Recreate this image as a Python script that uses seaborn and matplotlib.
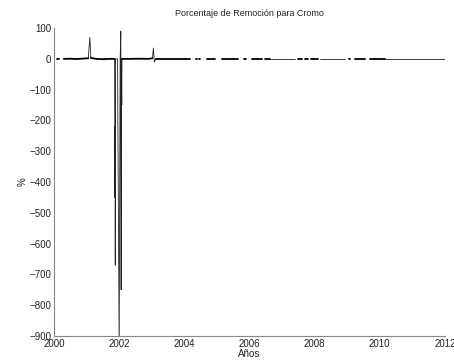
import numpy as np
import pandas as pd
import matplotlib
matplotlib.use("Agg")
import matplotlib.pyplot as plt
import seaborn as sns

# Baseline (near-zero) segments of the time series (decimal years, % removal)
base_years = [
    [2000.10, 2000.16],
    [2000.30, 2000.50, 2000.70, 2000.90, 2001.05],
    [2001.13, 2001.30, 2001.50, 2001.70, 2001.86],
    [2002.09, 2002.30, 2002.60, 2002.90, 2003.02],
    [2003.12, 2003.40, 2003.70, 2004.00, 2004.17],
    [2004.36, 2004.40],
    [2004.46, 2004.49],
    [2004.69, 2004.94],
    [2005.15, 2005.64],
    [2005.84, 2005.88],
    [2006.07, 2006.38],
    [2006.47, 2006.63],
    [2007.48, 2007.60],
    [2007.70, 2007.80],
    [2007.88, 2008.10],
    [2009.06, 2009.10],
    [2009.23, 2009.54],
    [2009.69, 2010.15],
]
base_values = [
    [0, 0],
    [0, 0.5, -0.5, 1, 2],
    [3, 0, -1, 0, 0],
    [0, 0, 0.5, 0, 2],
    [0, 0, 0, 0, 0],
    [0, 0], [0, 0], [0, 0], [0, 0], [0, 0], [0, 0], [0, 0],
    [0, 0], [0, 0], [0, 0], [0, 0], [0, 0], [0, 0],
]
# Spike / sparse segments
spike_years = [
    [2001.05, 2001.10, 2001.13],
    [2001.86, 2001.87, 2001.875, 2001.88, 2001.885, 2001.89, 2001.95, 2002.00, 2002.03,
     2002.05, 2002.06, 2002.065, 2002.08, 2002.085, 2002.09],
    [2003.02, 2003.05, 2003.08, 2003.12],
    [2006.63, 2007.39],
    [2008.16, 2008.93],
    [2010.15, 2010.61, 2011.99],
]
spike_values = [
    [2, 70, 3],
    [0, -450, -220, -670, -300, 0, 0, -950, 0, 90, -750, 0, -150, 0, 0],
    [2, 35, -10, 0],
    [0, 0],
    [0, 0],
    [0, 0, 0],
]
x_ticks = [2000, 2002, 2004, 2006, 2008, 2010, 2012]
y_ticks = [100, 0, -100, -200, -300, -400, -500, -600, -700, -800, -900]


def to_df(years, values):
    rows = []
    for i, (ys, vs) in enumerate(zip(years, values)):
        for a, b in zip(ys, vs):
            rows.append({"Año": a, "Valor": b, "seg": i})
    return pd.DataFrame(rows)


df_base = to_df(base_years, base_values)
df_spk = to_df(spike_years, spike_values)

sns.set_theme(style="white")
plt.rcParams['font.family'] = ['Liberation Sans', 'DejaVu Sans']

fig = plt.figure(figsize=(4.54, 3.6), dpi=100)
ax = fig.add_axes([0.119, 0.0667, 0.861, 0.8553])

sns.lineplot(data=df_spk, x="Año", y="Valor", units="seg", estimator=None,
             color="#222222", linewidth=0.6, ax=ax, legend=False)
sns.lineplot(data=df_base, x="Año", y="Valor", units="seg", estimator=None,
             color="black", linewidth=1.3, ax=ax, legend=False)

ax.set_xlim(2000, 2012)
ax.set_ylim(-900, 100)
ax.set_xticks(x_ticks)
ax.set_yticks(y_ticks)
ax.tick_params(direction="in", length=3, width=0.8, colors="#777777",
               labelsize=7, labelcolor="#222222", pad=2)
for s in ["top", "right"]:
    ax.spines[s].set_visible(False)
for s in ["left", "bottom"]:
    ax.spines[s].set_color("#888888")
    ax.spines[s].set_linewidth(0.8)

ax.set_title("Porcentaje de Remoción para Cromo", fontsize=6.5, pad=9,
             color="#222222")
ax.set_xlabel("Años", fontsize=7, labelpad=0, color="#222222")
ax.set_ylabel("%", fontsize=7, labelpad=1, color="#222222")

fig.savefig("out.png", dpi=100)
